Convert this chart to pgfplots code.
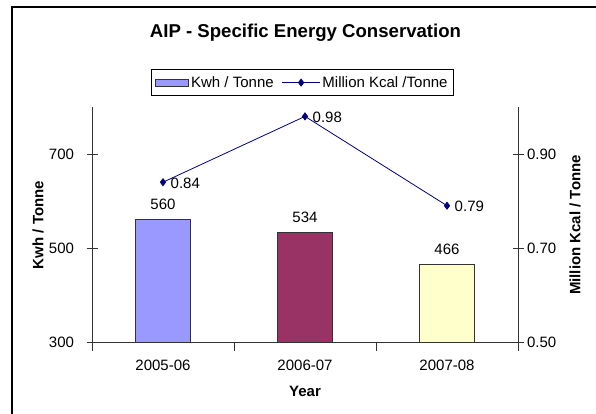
\documentclass[border=0pt]{standalone}
\usepackage{fontspec}
\setmainfont{Liberation Sans}
\usepackage{pgfplots}
\pgfplotsset{compat=1.18}
\definecolor{barA}{HTML}{9999FF}
\definecolor{barB}{HTML}{993366}
\definecolor{barC}{HTML}{FFFFCC}
\definecolor{lineN}{HTML}{000080}
\definecolor{axc}{HTML}{333333}
\newcommand{\fs}{\fontsize{15}{18}\selectfont}
\pgfplotsset{
  barlegend/.style={legend image code/.code={\draw[##1] (0pt,-3.5pt) rectangle (33pt,3.5pt);}},
  linelegend/.style={legend image code/.code={\draw[mark repeat=2,mark phase=2,##1] plot coordinates {(0pt,0pt) (19pt,0pt) (38pt,0pt)};}},
}
\begin{document}
\begin{tikzpicture}
\useasboundingbox (0pt,0pt) rectangle (596pt,414pt);
\draw[line width=1.6pt] (12pt,-2pt) -- (12pt,407pt) -- (600pt,407pt);
\node[font=\bfseries\fontsize{18.6}{22}\selectfont] at (305.5pt,381pt) {AIP - Specific Energy Conservation};
\node[font=\bfseries\fs, rotate=90] at (38pt,189pt) {Kwh / Tonne};
\node[font=\bfseries\fs, rotate=90] at (575pt,189pt) {Million Kcal / Tonne};
\node[font=\bfseries\fs] at (305pt,23pt) {Year};
\begin{axis}[
  at={(92pt,72pt)}, anchor=south west, scale only axis,
  width=426pt, height=235pt,
  xmin=-0.5, xmax=2.5, ymin=300, ymax=800,
  axis x line*=bottom, axis y line*=left,
  axis line style={draw=axc, line width=0.8pt},
  xtick={0,1,2}, xticklabels={2005-06,2006-07,2007-08},
  major x tick style={draw=none},
  minor xtick={-0.5,0.5,1.5,2.5},
  minor x tick style={draw=axc, line width=0.8pt},
  minor tick length=9pt,
  ytick={300,500,700},
  y tick style={draw=axc, line width=0.8pt},
  major tick length=11pt,
  tick align=center,
  tick label style={font=\fs},
  /pgf/number format/assume math mode=true,
  xticklabel style={yshift=-3pt},
  yticklabel style={xshift=-9pt},
  ybar, bar width=55pt,
  nodes near coords,
  every node near coord/.append style={font=\fs, yshift=6pt},
]
\addplot[fill=barA, draw=axc, line width=0.8pt, bar shift=0pt] coordinates {(0,560)};
\addplot[fill=barB, draw=axc, line width=0.8pt, bar shift=0pt] coordinates {(1,534)};
\addplot[fill=barC, draw=axc, line width=0.8pt, bar shift=0pt] coordinates {(2,466)};
\end{axis}
\begin{axis}[
  at={(92pt,72pt)}, anchor=south west, scale only axis,
  width=426pt, height=235pt,
  xmin=-0.5, xmax=2.5, ymin=0.5, ymax=1.0,
  axis x line=none, axis y line*=right,
  axis line style={draw=axc, line width=0.8pt},
  ytick={0.5,0.7,0.9},
  y tick style={draw=axc, line width=0.8pt},
  major tick length=11pt,
  tick align=center,
  tick label style={font=\fs},
  /pgf/number format/assume math mode=true,
  yticklabel style={/pgf/number format/.cd, fixed, fixed zerofill, precision=2},
  clip=false,
  legend columns=2,
  legend style={at={(0.494,1.104)}, anchor=center, draw=black, line width=0.8pt,
    font=\fs, inner xsep=4pt, inner ysep=5pt, row sep=0pt,
    /tikz/every even column/.append style={column sep=6pt}},
  legend cell align=left,
]
\addlegendimage{fill=barA, draw=axc, line width=0.8pt, barlegend}
\addlegendentry{Kwh / Tonne}
\addplot[color=lineN, line width=0.8pt, mark=diamond*, mark size=3.5pt,
  mark options={fill=lineN}, linelegend,
  nodes near coords={\pgfmathprintnumber[fixed,fixed zerofill,precision=2]{\pgfplotspointmeta}},
  every node near coord/.append style={font=\fs, anchor=west, xshift=4pt, yshift=-1pt, color=black}]
  coordinates {(0,0.84) (1,0.98) (2,0.79)};
\addlegendentry{Million Kcal /Tonne}
\end{axis}
\end{tikzpicture}
\end{document}
